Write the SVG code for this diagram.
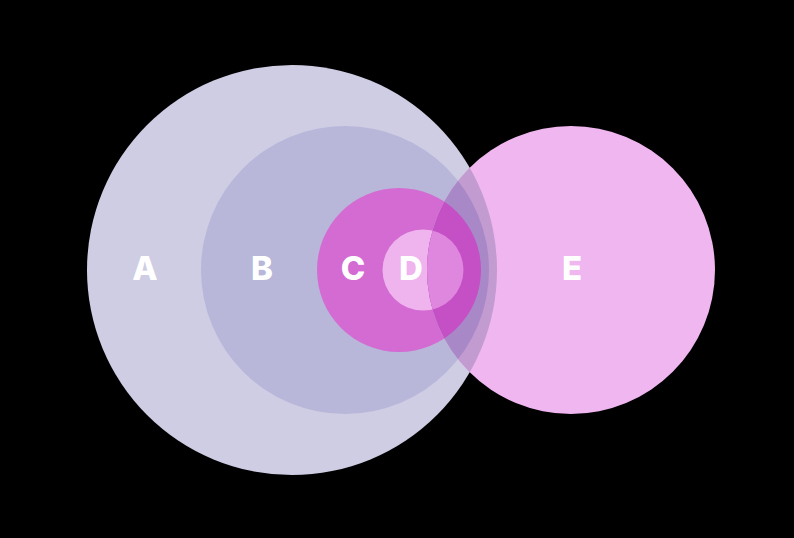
<svg xmlns="http://www.w3.org/2000/svg" width="794" height="538" viewBox="0 0 794 538">
<style>
.lbl{font-family:"Inter","Open Sans","Liberation Sans",sans-serif;font-weight:800;font-size:33px;fill:#ffffff;text-anchor:middle}
</style>
<defs>
<clipPath id="clipE"><circle cx="571" cy="270" r="144"/></clipPath>
</defs>
<rect width="794" height="538" fill="#000000"/>
<g id="A"><circle cx="292" cy="270" r="205" fill="#CFCDE4"/></g>
<g id="B"><circle cx="345" cy="270" r="144" fill="#B8B7D9"/></g>
<g id="C"><circle cx="399" cy="270" r="82" fill="#D36BD2"/></g>
<g id="D"><circle cx="423" cy="270" r="40.5" fill="#EFB3EE"/></g>
<g id="E"><circle cx="571" cy="270" r="144" fill="#F0B6F0"/></g>
<g id="overlaps" clip-path="url(#clipE)">
<circle cx="292" cy="270" r="205" fill="#C29BD0"/>
<circle cx="345" cy="270" r="144" fill="#A988C7"/>
<circle cx="399" cy="270" r="82" fill="#C54FC4"/>
<circle cx="423" cy="270" r="40.5" fill="#DF86DE"/>
</g>
<g id="labels">
<text class="lbl" x="145" y="280">A</text>
<text class="lbl" x="262" y="280">B</text>
<text class="lbl" x="353" y="280">C</text>
<text class="lbl" x="411" y="280">D</text>
<text class="lbl" x="572" y="280">E</text>
</g>
</svg>
